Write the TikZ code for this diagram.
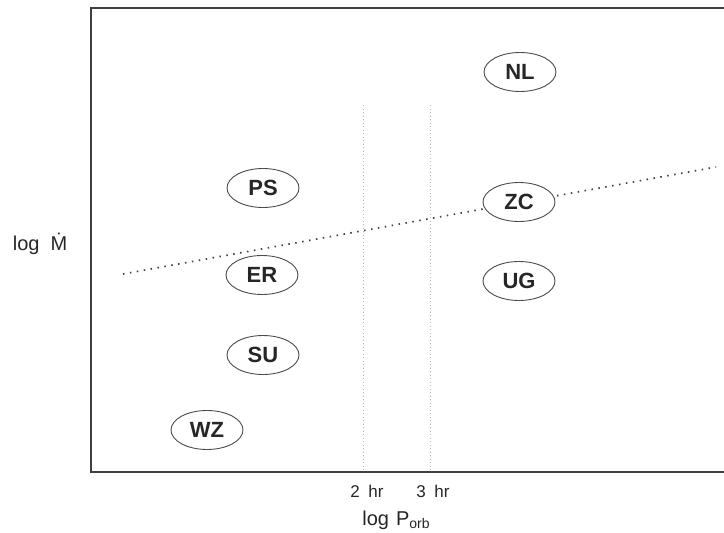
\documentclass[tikz,border=0pt]{standalone}
\usepackage{fontspec}
\setmainfont{Liberation Sans}
\usetikzlibrary{shapes.geometric}
\begin{document}
\begin{tikzpicture}[x=1pt,y=-1pt,
  frame/.style={draw=black!75,line width=1.1pt},
  period/.style={draw=black!30,line width=0.9pt,dash pattern=on 1pt off 2.5pt},
  trend/.style={draw=black!75,line width=1.7pt,dash pattern=on 1.5pt off 5.5pt},
  cvclass/.style={ellipse,draw=black!70,line width=0.9pt,fill=white,
    minimum width=72pt,minimum height=39pt,inner sep=0pt,
    font=\fontsize{22}{26}\selectfont\bfseries,text=black!85},
  axislabel/.style={font=\fontsize{20}{24}\selectfont,text=black!85},
  ticklabel/.style={font=\fontsize{17}{20}\selectfont,text=black!85}]
\useasboundingbox (0,0) rectangle (724,533);

% plot frame, open on the right
\coordinate (tr) at (724,8);
\coordinate (tl) at (91,8);
\coordinate (bl) at (91,472);
\coordinate (br) at (724,472);
\draw[frame] (tr) -- (tl) -- (bl) -- (br);

% period gap boundaries at 2 hr and 3 hr
\coordinate (p2top) at (363,105);
\coordinate (p2bot) at (363,472);
\coordinate (p3top) at (430,105);
\coordinate (p3bot) at (430,472);
\draw[period] (p2top) -- (p2bot);
\draw[period] (p3top) -- (p3bot);

% critical accretion rate
\coordinate (tstart) at (123,274);
\coordinate (tend) at (716,167);
\draw[trend] (tstart) -- (tend);

% classes of cataclysmic variables
\node[cvclass] (NL) at (520,72) {NL};
\node[cvclass] (PS) at (263,188) {PS};
\node[cvclass] (ZC) at (519,202) {ZC};
\node[cvclass] (ER) at (262,275) {ER};
\node[cvclass] (UG) at (519,281) {UG};
\node[cvclass] (SU) at (263,355) {SU};
\node[cvclass] (WZ) at (207,430) {WZ};

% axis labels
\node[axislabel] (ylab) at (40,244) {log\hspace{0.55em}\.{M}};
\node[ticklabel] (t2) at (367,491) {2\hspace{0.5em}hr};
\node[ticklabel] (t3) at (433,491) {3\hspace{0.5em}hr};
\node[axislabel] (xlab) at (396,520) {log\hspace{0.35em}P\raisebox{-0.35ex}{\fontsize{14}{16}\selectfont orb}};
\end{tikzpicture}
\end{document}
